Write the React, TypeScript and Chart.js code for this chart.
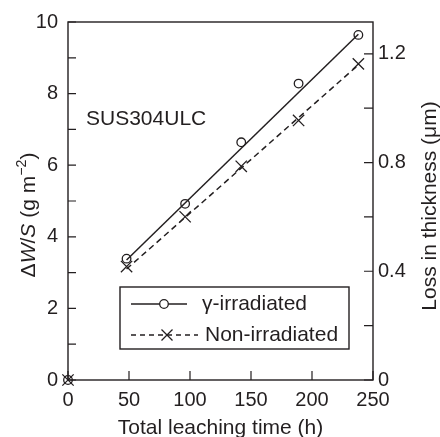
import React, { useEffect, useRef } from "react";
import { Chart, registerables } from "chart.js";

Chart.register(...registerables);

const timeH = [0, 48, 96, 142, 189, 238];
const gammaIrradiated = [0, 3.39, 4.92, 6.64, 8.28, 9.64];
const nonIrradiated = [0, 3.17, 4.56, 5.97, 7.25, 8.83];

const fitX = [48, 238];
const gammaFit = [3.35, 9.66];
const nonFit = [3.1, 8.8];

const xTicks = [0, 50, 100, 150, 200, 250];
const leftTicks = [0, 2, 4, 6, 8, 10];
const leftMinor = [0, 1, 2, 3, 4, 5, 6, 7, 8, 9, 10];
const rightTicks = [0, 0.4, 0.8, 1.2];
const rightMinor = [0, 0.2, 0.4, 0.6, 0.8, 1.0, 1.2];
const rightMax = 1.317;

const seriesNames = ["γ-irradiated", "Non-irradiated"];
const panelLabel = "SUS304ULC";
const xTitle = "Total leaching time (h)";
const rightTitle = "Loss in thickness (μm)";

const FONT = '"Liberation Sans", Arial, Helvetica, sans-serif';
const INK = "#231f20";

type Part = { t: string; it?: boolean; sup?: boolean };

function drawRich(ctx: CanvasRenderingContext2D, parts: Part[], cx: number, cy: number, angle: number, size: number) {
  ctx.save();
  ctx.translate(cx, cy);
  ctx.rotate(angle);
  const fontFor = (p: Part) => `${p.it ? "italic " : ""}${p.sup ? size * 0.68 : size}px ${FONT}`;
  let total = 0;
  const widths = parts.map((p) => {
    ctx.font = fontFor(p);
    const w = ctx.measureText(p.t).width;
    total += w;
    return w;
  });
  let x = -total / 2;
  const base = size * 0.36;
  ctx.textBaseline = "alphabetic";
  ctx.textAlign = "left";
  ctx.fillStyle = INK;
  parts.forEach((p, i) => {
    ctx.font = fontFor(p);
    ctx.fillText(p.t, x, p.sup ? base - size * 0.42 : base);
    x += widths[i];
  });
  ctx.restore();
}

function drawCircle(ctx: CanvasRenderingContext2D, x: number, y: number, r: number) {
  ctx.beginPath();
  ctx.arc(x, y, r, 0, Math.PI * 2);
  ctx.fillStyle = "#fff";
  ctx.fill();
  ctx.stroke();
}
function drawX(ctx: CanvasRenderingContext2D, x: number, y: number, r: number) {
  ctx.beginPath();
  ctx.moveTo(x - r, y - r);
  ctx.lineTo(x + r, y + r);
  ctx.moveTo(x + r, y - r);
  ctx.lineTo(x - r, y + r);
  ctx.stroke();
}

const framePlugin = {
  id: "frameAndExtras",
  afterDraw(chart: any) {
    const ctx: CanvasRenderingContext2D = chart.ctx;
    const { left, right, top, bottom } = chart.chartArea;
    const xs = chart.scales.x;
    const yl = chart.scales.y;
    const yr = chart.scales.y1;
    ctx.save();
    ctx.strokeStyle = INK;
    ctx.lineWidth = 1.4;
    ctx.strokeRect(left, top, right - left, bottom - top);
    ctx.lineWidth = 1.2;
    ctx.beginPath();
    xTicks.forEach((v) => {
      const px = xs.getPixelForValue(v);
      ctx.moveTo(px, bottom);
      ctx.lineTo(px, bottom - 9);
    });
    leftMinor.forEach((v) => {
      const py = yl.getPixelForValue(v);
      ctx.moveTo(left, py);
      ctx.lineTo(left + 8, py);
    });
    rightMinor.forEach((v) => {
      const py = yr.getPixelForValue(v);
      ctx.moveTo(right, py);
      ctx.lineTo(right - 9, py);
    });
    ctx.stroke();

    // titles
    drawRich(ctx, [{ t: xTitle }], (left + right) / 2, 426, 0, 21);
    drawRich(
      ctx,
      [{ t: "Δ" }, { t: "W", it: true }, { t: "/" }, { t: "S", it: true }, { t: " (g m" }, { t: "−2", sup: true }, { t: ")" }],
      27,
      (top + bottom) / 2 + 14,
      -Math.PI / 2,
      21
    );
    drawRich(ctx, [{ t: rightTitle }], 428, (top + bottom) / 2 + 5, -Math.PI / 2, 21);

    // panel label
    ctx.font = `21px ${FONT}`;
    ctx.fillStyle = INK;
    ctx.textBaseline = "middle";
    ctx.textAlign = "left";
    ctx.fillText(panelLabel, left + 18, top + 97);

    // legend
    const bx = left + 52;
    const by = top + 265;
    const bw = 229;
    const bh = 62;
    ctx.lineWidth = 1.4;
    ctx.strokeRect(bx, by, bw, bh);
    ctx.lineWidth = 1.3;
    const r1 = by + 17;
    const r2 = by + 48;
    ctx.beginPath();
    ctx.moveTo(bx + 11, r1);
    ctx.lineTo(bx + 67, r1);
    ctx.stroke();
    drawCircle(ctx, bx + 44, r1, 4.3);
    ctx.setLineDash([5, 4]);
    ctx.beginPath();
    ctx.moveTo(bx + 11, r2);
    ctx.lineTo(bx + 78, r2);
    ctx.stroke();
    ctx.setLineDash([]);
    drawX(ctx, bx + 47, r2, 5.5);
    ctx.fillStyle = INK;
    ctx.font = `21px ${FONT}`;
    ctx.textBaseline = "middle";
    ctx.fillText(seriesNames[0], bx + 82, r1);
    ctx.fillText(seriesNames[1], bx + 85, r2);
    ctx.restore();
  },
};

export default function App() {
  const ref = useRef<HTMLCanvasElement | null>(null);
  useEffect(() => {
    document.body.style.margin = "0";
    const canvas = ref.current;
    if (!canvas) return;
    const chart = new Chart(canvas, {
      type: "scatter",
      data: {
        datasets: [
          {
            label: "gammaFit",
            data: fitX.map((x, i) => ({ x, y: gammaFit[i] })),
            showLine: true,
            borderColor: INK,
            borderWidth: 1.5,
            pointRadius: 0,
          },
          {
            label: "nonFit",
            data: fitX.map((x, i) => ({ x, y: nonFit[i] })),
            showLine: true,
            borderColor: INK,
            borderWidth: 1.5,
            borderDash: [6, 4],
            pointRadius: 0,
          },
          {
            label: seriesNames[1],
            data: timeH.map((x, i) => ({ x, y: nonIrradiated[i] })),
            pointStyle: "crossRot",
            pointRadius: 8,
            borderColor: INK,
            borderWidth: 1.3,
            backgroundColor: INK,
            clip: false as any,
          },
          {
            label: seriesNames[0],
            data: timeH.map((x, i) => ({ x, y: gammaIrradiated[i] })),
            pointStyle: "circle",
            pointRadius: 4.3,
            borderColor: INK,
            borderWidth: 1.3,
            backgroundColor: "rgba(255,255,255,0)",
            clip: false as any,
          },
        ],
      },
      options: {
        responsive: false,
        animation: false,
        layout: { padding: { top: 20, left: 0, right: 0, bottom: 0 } },
        plugins: { legend: { display: false }, tooltip: { enabled: false } },
        scales: {
          x: {
            type: "linear",
            min: 0,
            max: 250,
            grid: { display: false, drawTicks: false },
            border: { display: false },
            afterBuildTicks: (s: any) => {
              s.ticks = xTicks.map((v) => ({ value: v }));
            },
            afterFit: (s: any) => {
              s.height = 57;
            },
            ticks: {
              padding: 8,
              color: INK,
              font: { family: FONT, size: 20 },
              maxRotation: 0,
            },
          },
          y: {
            type: "linear",
            position: "left",
            min: 0,
            max: 10,
            grid: { display: false, drawTicks: false },
            border: { display: false },
            afterBuildTicks: (s: any) => {
              s.ticks = leftTicks.map((v) => ({ value: v }));
            },
            afterFit: (s: any) => {
              s.width = 68;
            },
            ticks: { padding: 10, color: INK, font: { family: FONT, size: 20 } },
          },
          y1: {
            type: "linear",
            position: "right",
            min: 0,
            max: rightMax,
            grid: { display: false, drawTicks: false },
            border: { display: false },
            afterBuildTicks: (s: any) => {
              s.ticks = rightTicks.map((v) => ({ value: v }));
            },
            afterFit: (s: any) => {
              s.width = 67;
            },
            ticks: { padding: 5, color: INK, font: { family: FONT, size: 20 } },
          },
        },
      },
      plugins: [framePlugin],
    });
    return () => chart.destroy();
  }, []);
  return <canvas ref={ref} width={440} height={437} style={{ display: "block" }} />;
}
